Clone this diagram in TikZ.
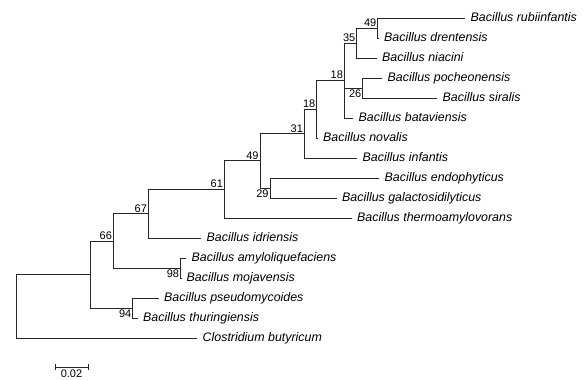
\documentclass[tikz,border=0pt]{standalone}
\usepackage{fontspec}
\setmainfont{Liberation Sans}
\usepackage{tikz}

\begin{document}
\begin{tikzpicture}[x=1pt,y=-1pt,
  br/.style={draw=black!85, line width=0.75pt},
  taxon/.style={anchor=west, inner xsep=5.5pt, inner ysep=0pt, text height=8pt, text depth=0.5pt, font=\fontsize{12.4}{13}\selectfont\itshape},
  bsl/.style={inner sep=1.2pt, font=\fontsize{11}{11}\selectfont}]
\useasboundingbox (0,0) rectangle (587,380);
% leaves
\node[taxon] (rub) at (465,18) {Bacillus rubiinfantis};
\node[taxon] (dre) at (378.5,38) {Bacillus drentensis};
\node[taxon] (nia) at (376.5,58) {Bacillus niacini};
\node[taxon] (poc) at (382,78) {Bacillus pocheonensis};
\node[taxon] (sir) at (437,98) {Bacillus siralis};
\node[taxon] (bat) at (353,118) {Bacillus bataviensis};
\node[taxon] (nov) at (317.5,138) {Bacillus novalis};
\node[taxon] (inf) at (357,158) {Bacillus infantis};
\node[taxon] (end) at (379,178) {Bacillus endophyticus};
\node[taxon] (gal) at (336.5,198) {Bacillus galactosidilyticus};
\node[taxon] (the) at (351.5,218) {Bacillus thermoamylovorans};
\node[taxon] (idr) at (201,238) {Bacillus idriensis};
\node[taxon] (amy) at (186,258) {Bacillus amyloliquefaciens};
\node[taxon] (moj) at (181,278) {Bacillus mojavensis};
\node[taxon] (pse) at (158.5,298) {Bacillus pseudomycoides};
\node[taxon] (thu) at (137.5,318) {Bacillus thuringiensis};
\node[taxon] (clo) at (197,338) {Clostridium butyricum};
% inner nodes
\coordinate (n49a) at (377.7,28);
\coordinate (n35) at (356.7,43);
\coordinate (n26) at (362.7,88);
\coordinate (n18a) at (344.3,80.5);
\coordinate (n18b) at (316.7,109.3);
\coordinate (n31) at (304.3,133.6);
\coordinate (n29) at (270,188);
\coordinate (n49b) at (260,160.8);
\coordinate (n61) at (224.3,189.4);
\coordinate (n67) at (148.3,213.7);
\coordinate (n98) at (180.5,268);
\coordinate (n66) at (113.3,240.9);
\coordinate (n94) at (132.7,308);
\coordinate (nA) at (90,274.4);
\coordinate (root) at (16,306.2);
% branches
\draw[br] (n49a) |- (rub.west);
\draw[br] (n49a) |- (dre.west);
\draw[br] (n35) |- (n49a);
\draw[br] (n35) |- (nia.west);
\draw[br] (n26) |- (poc.west);
\draw[br] (n26) |- (sir.west);
\draw[br] (n18a) |- (n35);
\draw[br] (n18a) |- (n26);
\draw[br] (n18a) |- (bat.west);
\draw[br] (n18b) |- (n18a);
\draw[br] (n18b) |- (nov.west);
\draw[br] (n31) |- (n18b);
\draw[br] (n31) |- (inf.west);
\draw[br] (n29) |- (end.west);
\draw[br] (n29) |- (gal.west);
\draw[br] (n49b) |- (n31);
\draw[br] (n49b) |- (n29);
\draw[br] (n61) |- (n49b);
\draw[br] (n61) |- (the.west);
\draw[br] (n67) |- (n61);
\draw[br] (n67) |- (idr.west);
\draw[br] (n98) |- (amy.west);
\draw[br] (n98) |- (moj.west);
\draw[br] (n66) |- (n67);
\draw[br] (n66) |- (n98);
\draw[br] (n94) |- (pse.west);
\draw[br] (n94) |- (thu.west);
\draw[br] (nA) |- (n66);
\draw[br] (nA) |- (n94);
\draw[br] (root) |- (nA);
\draw[br] (root) |- (clo.west);
% bootstrap values
\node[bsl, anchor=south east] (b49a) at (n49a) {49};
\node[bsl, anchor=south east] (b35) at (n35) {35};
\node[bsl, anchor=north east] (b26) at (n26) {26};
\node[bsl, anchor=south east] (b18a) at (n18a) {18};
\node[bsl, anchor=south east] (b18b) at (n18b) {18};
\node[bsl, anchor=south east] (b31) at (n31) {31};
\node[bsl, anchor=north east] (b29) at (n29) {29};
\node[bsl, anchor=south east] (b49b) at (n49b) {49};
\node[bsl, anchor=south east] (b61) at (n61) {61};
\node[bsl, anchor=south east] (b67) at (n67) {67};
\node[bsl, anchor=north east] (b98) at (n98) {98};
\node[bsl, anchor=south east] (b66) at (n66) {66};
\node[bsl, anchor=north east] (b94) at (n94) {94};
% scale bar
\coordinate (sbl) at (55,367);
\coordinate (sbr) at (88,367);
\draw[br] (sbl) -- (sbr);
\draw[br] ([yshift=3pt]sbl) -- ([yshift=-3pt]sbl);
\draw[br] ([yshift=3pt]sbr) -- ([yshift=-3pt]sbr);
\node[bsl, anchor=north] (sbt) at (71.5,368.5) {0.02};
\end{tikzpicture}
\end{document}
